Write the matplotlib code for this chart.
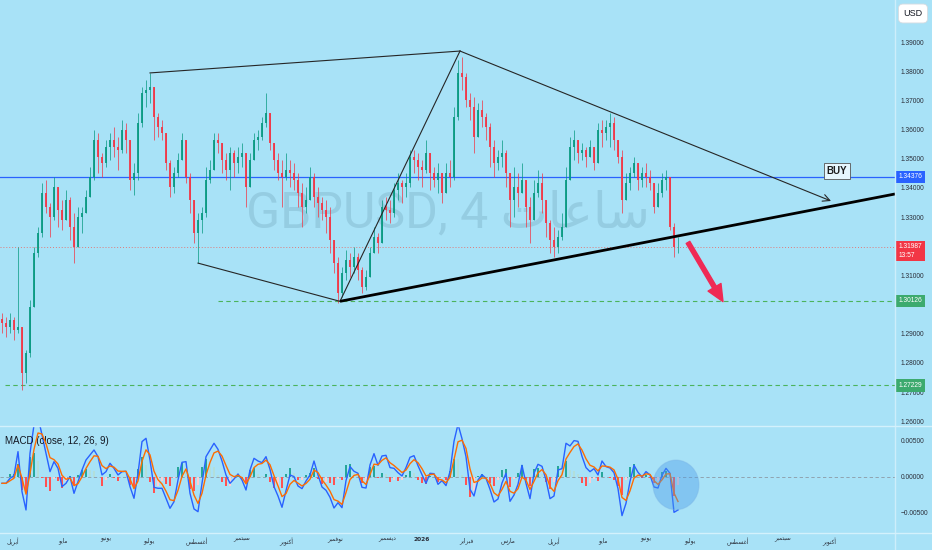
import numpy as np
import pandas as pd
import matplotlib
matplotlib.use('Agg')
import matplotlib.pyplot as plt
from matplotlib.patches import Ellipse
from matplotlib.lines import Line2D

plt.rcParams['font.family'] = ['Liberation Sans', 'DejaVu Sans']

# GBPUSD 4h, resampled by eye from the screenshot (one candle per ~4 px)
first_open = 1.2950
highs = np.array([
    1.2970, 1.2958, 1.2970, 1.2958, 1.3198, 1.2913, 1.2844, 1.3016, 1.3198, 1.3267,
    1.3416, 1.3427, 1.3347, 1.3438, 1.3404, 1.3358, 1.3393, 1.3370, 1.3313, 1.3336,
    1.3336, 1.3393, 1.3473, 1.3598, 1.3587, 1.3518, 1.3564, 1.3587, 1.3610, 1.3576,
    1.3633, 1.3621, 1.3564, 1.3484, 1.3656, 1.3747, 1.3770, 1.3793, 1.3678, 1.3656,
    1.3633, 1.3564, 1.3496, 1.3473, 1.3518, 1.3587, 1.3530, 1.3450, 1.3336, 1.3313,
    1.3336, 1.3473, 1.3496, 1.3587, 1.3587, 1.3541, 1.3518, 1.3541, 1.3530, 1.3541,
    1.3553, 1.3473, 1.3518, 1.3587, 1.3598, 1.3644, 1.3724, 1.3644, 1.3541, 1.3518,
    1.3496, 1.3518, 1.3496, 1.3484, 1.3450, 1.3416, 1.3404, 1.3473, 1.3450, 1.3404,
    1.3370, 1.3358, 1.3336, 1.3221, 1.3164, 1.3130, 1.3187, 1.3176, 1.3198, 1.3176,
    1.3130, 1.3118, 1.3198, 1.3267, 1.3244, 1.3358, 1.3370, 1.3358, 1.3416, 1.3450,
    1.3427, 1.3450, 1.3530, 1.3530, 1.3518, 1.3496, 1.3564, 1.3507, 1.3473, 1.3484,
    1.3427, 1.3484, 1.3496, 1.3678, 1.3838, 1.3850, 1.3793, 1.3724, 1.3713, 1.3690,
    1.3701, 1.3656, 1.3621, 1.3564, 1.3530, 1.3564, 1.3530, 1.3427, 1.3473, 1.3450,
    1.3484, 1.3427, 1.3370, 1.3427, 1.3461, 1.3450, 1.3358, 1.3290, 1.3267, 1.3256,
    1.3313, 1.3473, 1.3576, 1.3598, 1.3541, 1.3553, 1.3541, 1.3564, 1.3518, 1.3621,
    1.3633, 1.3633, 1.3656, 1.3644, 1.3541, 1.3530, 1.3450, 1.3473, 1.3507, 1.3473,
    1.3473, 1.3484, 1.3461, 1.3416, 1.3416, 1.3450, 1.3461, 1.3438, 1.3278, 1.3233])
lows = np.array([
    1.2901, 1.2890, 1.2901, 1.2878, 1.2901, 1.2707, 1.2730, 1.2821, 1.2993, 1.3164,
    1.3233, 1.3313, 1.3233, 1.3290, 1.3267, 1.3256, 1.3290, 1.3221, 1.3141, 1.3198,
    1.3244, 1.3313, 1.3370, 1.3427, 1.3450, 1.3438, 1.3473, 1.3496, 1.3507, 1.3461,
    1.3518, 1.3518, 1.3393, 1.3375, 1.3427, 1.3610, 1.3678, 1.3690, 1.3564, 1.3576,
    1.3564, 1.3461, 1.3370, 1.3381, 1.3438, 1.3496, 1.3416, 1.3313, 1.3210, 1.3141,
    1.3244, 1.3301, 1.3416, 1.3473, 1.3518, 1.3450, 1.3427, 1.3393, 1.3438, 1.3450,
    1.3473, 1.3336, 1.3404, 1.3507, 1.3530, 1.3564, 1.3610, 1.3530, 1.3461, 1.3427,
    1.3336, 1.3427, 1.3404, 1.3393, 1.3336, 1.3267, 1.3313, 1.3358, 1.3336, 1.3301,
    1.3290, 1.3244, 1.3176, 1.3107, 1.3004, 1.3027, 1.3084, 1.3096, 1.3107, 1.3084,
    1.3038, 1.3050, 1.3096, 1.3176, 1.3176, 1.3210, 1.3290, 1.3278, 1.3301, 1.3358,
    1.3347, 1.3370, 1.3404, 1.3450, 1.3427, 1.3404, 1.3450, 1.3393, 1.3404, 1.3381,
    1.3347, 1.3393, 1.3404, 1.3427, 1.3633, 1.3736, 1.3678, 1.3633, 1.3518, 1.3587,
    1.3610, 1.3564, 1.3473, 1.3438, 1.3461, 1.3473, 1.3404, 1.3267, 1.3301, 1.3336,
    1.3393, 1.3267, 1.3210, 1.3290, 1.3370, 1.3313, 1.3233, 1.3176, 1.3164, 1.3176,
    1.3221, 1.3267, 1.3427, 1.3496, 1.3484, 1.3496, 1.3473, 1.3507, 1.3461, 1.3507,
    1.3541, 1.3564, 1.3541, 1.3530, 1.3484, 1.3313, 1.3370, 1.3393, 1.3438, 1.3393,
    1.3404, 1.3404, 1.3393, 1.3313, 1.3336, 1.3370, 1.3393, 1.3256, 1.3164, 1.3176])
closes = np.array([
    1.2936, 1.2924, 1.2947, 1.2913, 1.2924, 1.2764, 1.2833, 1.2993, 1.3176, 1.3244,
    1.3381, 1.3336, 1.3301, 1.3404, 1.3324, 1.3290, 1.3358, 1.3267, 1.3198, 1.3301,
    1.3313, 1.3370, 1.3438, 1.3564, 1.3507, 1.3484, 1.3541, 1.3564, 1.3541, 1.3530,
    1.3598, 1.3564, 1.3427, 1.3450, 1.3621, 1.3724, 1.3736, 1.3747, 1.3644, 1.3610,
    1.3587, 1.3484, 1.3404, 1.3450, 1.3496, 1.3564, 1.3438, 1.3358, 1.3244, 1.3290,
    1.3313, 1.3427, 1.3461, 1.3564, 1.3553, 1.3496, 1.3461, 1.3518, 1.3484, 1.3507,
    1.3518, 1.3404, 1.3496, 1.3564, 1.3576, 1.3621, 1.3656, 1.3553, 1.3496, 1.3450,
    1.3438, 1.3461, 1.3450, 1.3427, 1.3381, 1.3336, 1.3358, 1.3438, 1.3370, 1.3347,
    1.3324, 1.3301, 1.3221, 1.3141, 1.3038, 1.3107, 1.3153, 1.3130, 1.3164, 1.3118,
    1.3061, 1.3096, 1.3176, 1.3233, 1.3210, 1.3336, 1.3324, 1.3313, 1.3393, 1.3416,
    1.3404, 1.3416, 1.3507, 1.3496, 1.3473, 1.3461, 1.3518, 1.3450, 1.3427, 1.3450,
    1.3381, 1.3450, 1.3438, 1.3644, 1.3793, 1.3781, 1.3701, 1.3678, 1.3576, 1.3667,
    1.3644, 1.3610, 1.3541, 1.3484, 1.3507, 1.3518, 1.3450, 1.3358, 1.3404, 1.3381,
    1.3427, 1.3336, 1.3290, 1.3381, 1.3416, 1.3358, 1.3278, 1.3221, 1.3198, 1.3233,
    1.3267, 1.3427, 1.3541, 1.3564, 1.3518, 1.3530, 1.3507, 1.3541, 1.3484, 1.3598,
    1.3587, 1.3610, 1.3621, 1.3564, 1.3507, 1.3358, 1.3416, 1.3450, 1.3484, 1.3427,
    1.3450, 1.3438, 1.3416, 1.3336, 1.3381, 1.3427, 1.3438, 1.3267, 1.3198, 1.31987])

macd_line = np.array([
    -0.00088, -0.00088, -0.00019, 0.00019, 0.00352, -0.00204, -0.00458, 0.00329, 0.00722, 0.00838,
    0.00583, 0.00329, 0.00074, 0.00213, 0.00120, -0.00134, -0.00088, 0.00005, -0.00227, -0.00065,
    0.00097, 0.00236, 0.00306, 0.00375, 0.00282, 0.00028, 0.00074, 0.00190, 0.00120, 0.00028,
    0.00074, 0.00079, -0.00134, -0.00296, 0.00051, 0.00491, 0.00537, 0.00236, -0.00144, -0.00157,
    -0.00157, -0.00296, -0.00435, -0.00343, -0.00042, 0.00204, 0.00213, -0.00227, -0.00444, -0.00482,
    -0.00088, 0.00282, 0.00375, 0.00468, 0.00384, 0.00222, 0.00028, -0.00088, -0.00028, 0.00042,
    -0.00042, -0.00181, 0.00097, 0.00259, 0.00222, 0.00199, 0.00282, 0.00106, -0.00134, -0.00264,
    -0.00421, -0.00190, 0.00028, 0.00005, -0.00125, -0.00162, -0.00056, 0.00028, 0.00222, 0.00028,
    -0.00139, -0.00185, -0.00282, -0.00431, -0.00357, -0.00426, -0.00051, 0.00144, 0.00079, 0.00051,
    -0.00144, -0.00153, 0.00167, 0.00324, 0.00162, 0.00292, 0.00301, 0.00130, 0.00120, 0.00060,
    0.00014, 0.00130, 0.00273, 0.00296, 0.00157, 0.00032, -0.00088, 0.00051, 0.00046, -0.00102,
    -0.00051, -0.00120, 0.00074, 0.00495, 0.00732, 0.00532, 0.00282, -0.00171, -0.00264, -0.00042,
    0.00032, -0.00019, -0.00171, -0.00347, -0.00306, -0.00083, 0.00051, -0.00338, -0.00250, -0.00102,
    0.00162, -0.00088, -0.00301, 0.00051, 0.00176, 0.00148, -0.00042, -0.00301, -0.00264, 0.00097,
    0.00116, 0.00468, 0.00431, 0.00505, 0.00495, 0.00287, 0.00130, 0.00074, 0.00116, 0.00028,
    0.00222, 0.00144, 0.00125, 0.00060, -0.00162, -0.00537, -0.00366, -0.00060, 0.00162, 0.00065,
    0.00000, 0.00074, 0.00028, -0.00139, -0.00153, 0.00023, 0.00120, 0.00051, -0.00491, -0.00458])

# time axis (bar index) labels
tick_labels = ['أبريل', 'مايو', 'يونيو', 'يوليو', 'أغسطس', 'سبتمبر', 'أكتوبر', 'نوفمبر', 'ديسمبر',
               '2026', 'فبراير', 'مارس', 'أبريل', 'مايو', 'يونيو', 'يوليو', 'أغسطس', 'سبتمبر', 'أكتوبر']
tick_bars = [2.75, 15.25, 26.0, 36.75, 48.75, 60.0, 71.0, 83.25, 96.25,
             105.0, 116.0, 126.5, 138.0, 150.25, 161.0, 172.0, 184.0, 195.25, 206.75]
# price scale labels (1.30 and 1.32 sit under the price tags)
price_ticks = [1.26, 1.27, 1.28, 1.29, 1.31, 1.33, 1.34, 1.35, 1.36, 1.37, 1.38, 1.39]

# levels and drawings (bar index, price)
blue_level = 1.34376
last_price = 1.31987
green_levels = [1.30126, 1.27229]
green_starts = [54.0, 0.75]
pattern_top = [(37.0, 1.3794), (114.5, 1.3869)]
pattern_low = [(49.0, 1.3142), (84.5, 1.3011)]
pattern_leg = [(84.5, 1.3011), (114.5, 1.3869)]
falling_line = [(114.5, 1.3869), (207.25, 1.3355)]
support_line = [(84.5, 1.3011), (223.25, 1.3379)]
red_arrow = [(171.5, 1.3213), (180.25, 1.3010)]
buy_note = (208.75, 1.3458)
macd_circle = (168.5, -0.0011)

BG = '#a8e2f7'
UP, DOWN = '#089981', '#f23645'

# small helper: Arabic letters to joined presentation forms, visual order
AR_FORMS = {
    'ا': (0xFE8D, 2), 'أ': (0xFE83, 2), 'د': (0xFEA9, 2), 'ر': (0xFEAD, 2), 'و': (0xFEED, 2),
    'ب': (0xFE8F, 4), 'ت': (0xFE95, 4), 'س': (0xFEB1, 4), 'ط': (0xFEC1, 4), 'ع': (0xFEC9, 4),
    'غ': (0xFECD, 4), 'ف': (0xFED1, 4), 'ك': (0xFED9, 4), 'ل': (0xFEDD, 4), 'م': (0xFEE1, 4),
    'ن': (0xFEE5, 4), 'ي': (0xFEF1, 4),
}


def arabic(word):
    if not any(ch in AR_FORMS for ch in word):
        return word
    out = []
    for k, ch in enumerate(word):
        if ch not in AR_FORMS:
            out.append(ch)
            continue
        base, n = AR_FORMS[ch]
        prev = word[k - 1] if k > 0 else ''
        nxt = word[k + 1] if k + 1 < len(word) else ''
        join_prev = prev in AR_FORMS and AR_FORMS[prev][1] == 4
        join_next = n == 4 and nxt in AR_FORMS
        form = [[0, 2], [1, 3]][join_prev][join_next]
        out.append(chr(base + form))
    return ''.join(reversed(out))


bars = np.arange(len(closes))
opens = np.r_[first_open, closes[:-1]]
signal = pd.Series(macd_line).ewm(span=3, adjust=False).mean().to_numpy()
hist = macd_line - signal

fig = plt.figure(figsize=(9.32, 5.5), dpi=100, facecolor=BG)
ax = fig.add_axes([0, 124 / 550, 895 / 932, 426 / 550], facecolor=BG)
ax2 = fig.add_axes([0, 17 / 550, 895 / 932, 107 / 550], facecolor=BG, sharex=ax)

# --- price pane
ax.text(0.5, 0.5, 'GBPUSD, 4 ' + arabic('ساعات'), transform=ax.transAxes, ha='center', va='center',
        fontsize=36, color='#5f8fa6', alpha=0.25, family=['Roboto', 'DejaVu Sans'], zorder=1)

ax.axhline(blue_level, color='#2962ff', lw=0.9, zorder=2)
ax.axhline(last_price, color='#e07a7a', lw=0.7, ls=(0, (1, 2)), zorder=2)
for lvl, x0 in zip(green_levels, green_starts):
    ax.hlines(lvl, x0, 240, color='#4cb35c', lw=0.8, ls=(0, (4, 3)), zorder=2)

up = closes >= opens
col = np.where(up, UP, DOWN)
wick_hi = np.maximum(highs, np.maximum(opens, closes))
wick_lo = np.minimum(lows, np.minimum(opens, closes))
ax.vlines(bars, wick_lo, wick_hi, colors=col, lw=0.6, alpha=0.85, zorder=3)
ax.bar(bars, closes - opens, bottom=opens, width=0.6, color=col, alpha=0.9, zorder=3)

for seg in [pattern_top, pattern_low, pattern_leg]:
    ax.plot(*zip(*seg), color='#262626', lw=0.8, zorder=5)
ax.plot(*zip(*support_line), color='black', lw=2.0, zorder=5, solid_capstyle='butt')
ax.annotate('', xy=falling_line[1], xytext=falling_line[0],
            arrowprops=dict(arrowstyle='->,head_length=0.5,head_width=0.25', color='#262626',
                            lw=0.8, shrinkA=0, shrinkB=0), zorder=5)
ax.annotate('', xy=red_arrow[1], xytext=red_arrow[0],
            arrowprops=dict(arrowstyle='simple,head_length=1.0,head_width=0.9,tail_width=0.25',
                            fc='#ef2a55', ec='#ef2a55', mutation_scale=12, shrinkA=0, shrinkB=0),
            zorder=6)
ax.text(*buy_note, 'BUY', ha='center', va='center', fontsize=7, fontweight='bold', color='#1c1c1c',
        bbox=dict(boxstyle='square,pad=0.3', fc='#e6f6fd', ec='#555555', lw=0.6), zorder=6)

ax.set_xlim(-0.5, 223.25)
ax.set_ylim(1.25836, 1.40440)
ax.yaxis.tick_right()
ax.set_yticks(price_ticks)
ax.yaxis.set_major_formatter(plt.FormatStrFormatter('%.5f'))
ax.tick_params(axis='y', length=0, pad=4.3, labelsize=4.8, labelcolor='#2a2e39')
ax.tick_params(axis='x', length=0, labelbottom=False)
for s in ax.spines.values():
    s.set_visible(False)


def price_tag(axis, y, text, color, dy=0):
    axis.annotate(text, xy=(1, y), xycoords=axis.get_yaxis_transform(), xytext=(2.4, dy),
                  textcoords='offset points', ha='left', va='center', fontsize=4.8, color='white',
                  linespacing=1.25, annotation_clip=False, zorder=10,
                  bbox=dict(boxstyle='square,pad=0.4', fc=color, ec='none'))


price_tag(ax, blue_level, '%.5f' % blue_level, '#2962ff')
price_tag(ax, last_price, '%.5f\n13:57' % last_price, '#f23645', dy=-3.2)
for lvl in green_levels:
    price_tag(ax, lvl, '%.5f' % lvl, '#3caa6e')

# --- MACD pane
ax2.axhline(0, color='#8c9aa5', lw=0.6, ls=(0, (4, 3)), zorder=1)
prev = np.r_[0, hist[:-1]]
hcol = np.where(hist >= 0, np.where(hist >= prev, '#26a69a', '#b2dfdb'),
                np.where(hist < prev, '#ff5252', '#ffcdd2'))
ax2.bar(bars, hist, width=0.55, color=hcol, zorder=2)
ax2.plot(bars, macd_line, color='#2962ff', lw=1.0, zorder=3)
ax2.plot(bars, signal, color='#ff6d00', lw=1.0, zorder=4)
ax2.add_patch(Ellipse(macd_circle, 11.5, 0.0069, fc='#4a9be8', ec='#7ab3e6', lw=0.8, alpha=0.4, zorder=5))
ax2.text(0.006, 0.86, 'MACD (close, 12, 26, 9)', transform=ax2.transAxes, fontsize=7,
         color='#131722', va='center')

ax2.set_ylim(-0.00778, 0.00708)
ax2.yaxis.tick_right()
ax2.set_yticks([0.005, 0.0, -0.005])
ax2.set_yticklabels(['0.00500', '0.00000', '\u22120.00500'])
ax2.tick_params(axis='y', length=0, pad=4.3, labelsize=4.8, labelcolor='#2a2e39')
ax2.set_xticks(tick_bars)
ax2.set_xticklabels([arabic(t) for t in tick_labels])
ax2.tick_params(axis='x', length=0, pad=3.0, labelsize=4.2, labelcolor='#2a2e39')
for lab in ax2.get_xticklabels():
    lab.set_family(['DejaVu Sans'])
    if lab.get_text() == '2026':
        lab.set_fontweight('bold')
for s in ax2.spines.values():
    s.set_visible(False)

# pane separators and the currency badge
fig.add_artist(Line2D([895 / 932] * 2, [0, 1], color='#cdeefb', lw=1.0))
for yy in (124 / 550, 17 / 550):
    fig.add_artist(Line2D([0, 1], [yy, yy], color='#d3f1fc', lw=1.0))
fig.text(913 / 932, 1 - 13.5 / 550, 'USD', ha='center', va='center', fontsize=6.5, color='#131722',
         bbox=dict(boxstyle='round,pad=0.55,rounding_size=0.5', fc='white', ec='#d6dbe0', lw=0.6))

fig.savefig('out.png', dpi=100, facecolor=BG)
